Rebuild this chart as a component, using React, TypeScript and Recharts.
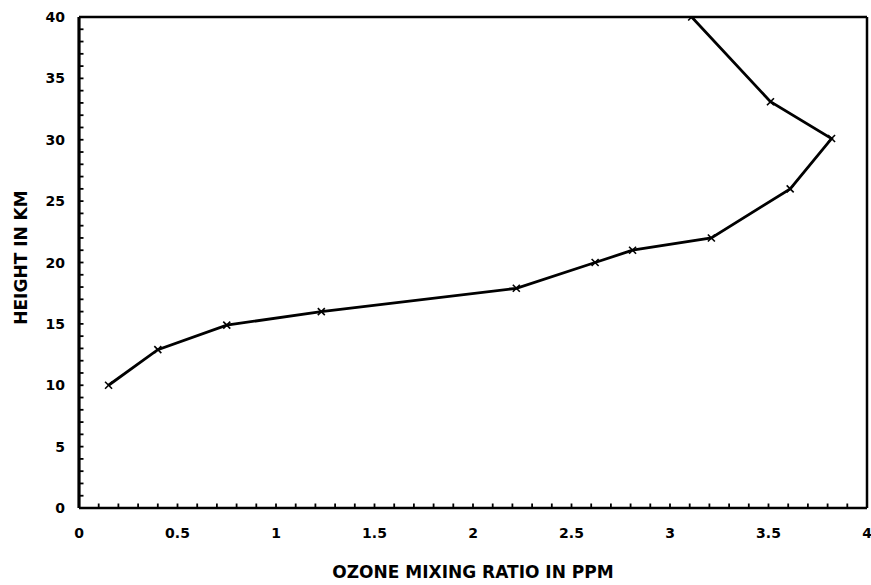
import React from 'react';
import { LineChart, Line, XAxis, YAxis, ReferenceLine } from 'recharts';

const ozonePpm = [0.15, 0.4, 0.75, 1.23, 2.22, 2.62, 2.81, 3.21, 3.61, 3.82, 3.51, 3.11];
const heightKm = [10, 12.9, 14.9, 16, 17.9, 20, 21, 22, 26, 30.1, 33.1, 40];

const xMajorTicks = [0, 0.5, 1, 1.5, 2, 2.5, 3, 3.5, 4];
const xTickLabels = ['0', '0.5', '1', '1.5', '2', '2.5', '3', '3.5', '4'];
const yMajorTicks = [0, 5, 10, 15, 20, 25, 30, 35, 40];
const yTickLabels = ['0', '5', '10', '15', '20', '25', '30', '35', '40'];

const xAllTicks: number[] = [];
for (let i = 0; i <= 40; i++) xAllTicks.push(i / 10);
const yAllTicks: number[] = [];
for (let i = 0; i <= 40; i++) yAllTicks.push(i);

const data = ozonePpm.map((x, i) => ({ x, y: heightKm[i] }));

const FONT = '"DejaVu Sans", sans-serif';

const XTick = (props: any) => {
  const { x, y, payload } = props;
  const v = payload.value;
  const idx = xMajorTicks.findIndex((m) => Math.abs(m - v) < 1e-6);
  return (
    <g>
      <line x1={x} x2={x} y1={y} y2={y - 4.5} stroke="#000" strokeWidth={1.8} />
      {idx >= 0 && (
        <text x={x} y={y + 30} textAnchor="middle" fontFamily={FONT} fontWeight="bold" fontSize={14} fill="#000">
          {xTickLabels[idx]}
        </text>
      )}
    </g>
  );
};

const YTick = (props: any) => {
  const { x, y, payload } = props;
  const v = payload.value;
  const idx = yMajorTicks.findIndex((m) => Math.abs(m - v) < 1e-6);
  return (
    <g>
      <line x1={x} x2={x + 4.5} y1={y} y2={y} stroke="#000" strokeWidth={1.8} />
      {idx >= 0 && (
        <text x={x - 14} y={y + 5} textAnchor="end" fontFamily={FONT} fontWeight="bold" fontSize={14} fill="#000">
          {yTickLabels[idx]}
        </text>
      )}
    </g>
  );
};

const CrossDot = (props: any) => {
  const { cx, cy } = props;
  if (cx == null || cy == null) return null;
  const s = 3.5;
  return (
    <g>
      <line x1={cx - s} y1={cy - s} x2={cx + s} y2={cy + s} stroke="#000" strokeWidth={1.6} />
      <line x1={cx - s} y1={cy + s} x2={cx + s} y2={cy - s} stroke="#000" strokeWidth={1.6} />
    </g>
  );
};

const YTitle = (props: any) => {
  const vb = props.viewBox || { x: 0, y: 17, width: 79, height: 491 };
  const tx = vb.x + 27;
  const ty = vb.y + vb.height / 2 - 5;
  return (
    <text
      x={tx}
      y={ty}
      transform={`rotate(-90, ${tx}, ${ty})`}
      textAnchor="middle"
      fontFamily={FONT}
      fontWeight="bold"
      fontSize={17}
      fill="#000"
    >
      HEIGHT IN KM
    </text>
  );
};

export default function App() {
  return (
    <div style={{ position: 'absolute', left: 0, top: 0, background: '#fff' }}>
      <LineChart width={871} height={585} data={data} margin={{ top: 17, right: 4, left: 0, bottom: 0 }}>
        <XAxis
          dataKey="x"
          type="number"
          domain={[0, 4]}
          ticks={xAllTicks}
          interval={0}
          tickSize={0}
          tickMargin={0}
          tickLine={false}
          tick={<XTick />}
          height={77}
          axisLine={{ stroke: '#000', strokeWidth: 2.5 }}
          allowDataOverflow
          label={{
            value: 'OZONE MIXING RATIO IN PPM',
            position: 'insideBottom',
            offset: 7,
            style: { fontFamily: FONT, fontWeight: 'bold', fontSize: 17, fill: '#000' },
          }}
        />
        <YAxis
          dataKey="y"
          type="number"
          domain={[0, 40]}
          ticks={yAllTicks}
          interval={0}
          tickSize={0}
          tickMargin={0}
          tickLine={false}
          tick={<YTick />}
          width={79}
          axisLine={{ stroke: '#000', strokeWidth: 3.2 }}
          allowDataOverflow
          label={<YTitle />}
        />
        <ReferenceLine y={40} stroke="#000" strokeWidth={2.5} ifOverflow="visible" />
        <ReferenceLine x={4} stroke="#000" strokeWidth={2.5} ifOverflow="visible" />
        <Line
          type="linear"
          dataKey="y"
          stroke="#000"
          strokeWidth={2.8}
          dot={<CrossDot />}
          activeDot={false}
          isAnimationActive={false}
        />
      </LineChart>
    </div>
  );
}
